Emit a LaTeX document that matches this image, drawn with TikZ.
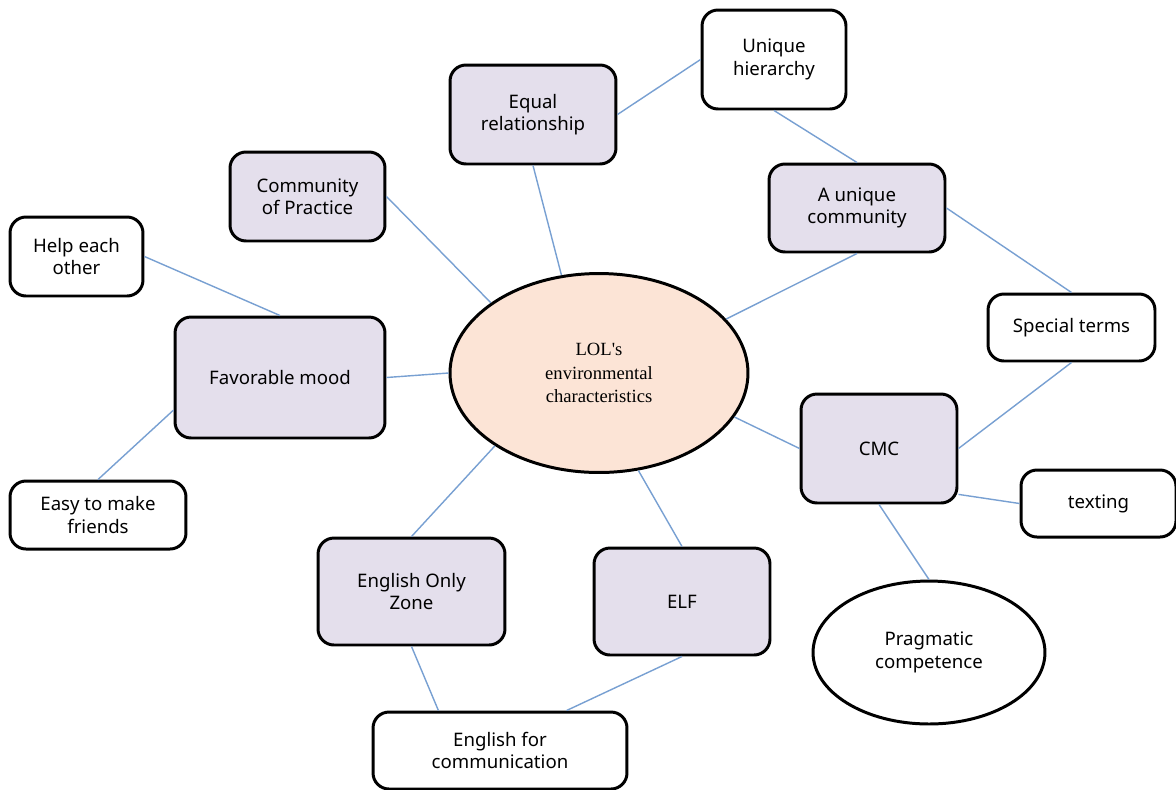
\documentclass[tikz,border=0pt]{standalone}
\usepackage{fontspec}
\setmainfont{Noto Sans}
\newfontfamily\serifcenter{Liberation Serif}
\usetikzlibrary{shapes.geometric}
\definecolor{lavfill}{HTML}{E4DFEC}
\definecolor{peachfill}{HTML}{FCE4D6}
\definecolor{linkblue}{RGB}{120,160,210}
\tikzset{
  basebox/.style={draw=black, line width=1.7pt, rounded corners=0.32cm, inner sep=0pt, align=center,
    font=\fontsize{10.6}{12.8}\selectfont},
  lavbox/.style={basebox, fill=lavfill},
  whitebox/.style={basebox, fill=white},
  ovalnode/.style={ellipse, draw=black, line width=1.7pt, inner sep=0pt, align=center},
  link/.style={draw=linkblue, line width=0.8pt}
}
\begin{document}
\begin{tikzpicture}[x=0.02cm,y=-0.02cm]
\useasboundingbox[fill=white] (0,0) rectangle (1176,789);
% nodes
\node[ovalnode, fill=peachfill, minimum width=5.96cm, minimum height=3.98cm,
  font=\serifcenter\fontsize{10.6}{13.2}\selectfont] (lol) at (599,373) {LOL's\\environmental\\characteristics};
\node[lavbox, minimum width=3.32cm, minimum height=1.98cm] (eq) at (533,114.5) {Equal\\relationship};
\node[whitebox, minimum width=2.88cm, minimum height=1.98cm] (uh) at (774,59.5) {Unique\\hierarchy};
\node[lavbox, minimum width=3.10cm, minimum height=1.78cm] (cop) at (307.5,196.5) {Community\\of Practice};
\node[lavbox, minimum width=3.52cm, minimum height=1.76cm] (auc) at (857,208) {A unique\\community};
\node[whitebox, minimum width=2.66cm, minimum height=1.58cm] (help) at (76.5,256.5) {Help each\\other};
\node[whitebox, minimum width=3.34cm, minimum height=1.34cm] (st) at (1071.5,327.5) {Special terms};
\node[lavbox, minimum width=4.20cm, minimum height=2.42cm] (fav) at (280,377.5) {Favorable mood};
\node[lavbox, minimum width=3.12cm, minimum height=2.18cm] (cmc) at (879,448.5) {CMC};
\node[whitebox, minimum width=3.10cm, minimum height=1.34cm] (tx) at (1098.5,503.5) {texting};
\node[whitebox, minimum width=3.52cm, minimum height=1.36cm] (easy) at (98,515) {Easy to make\\friends};
\node[lavbox, minimum width=3.74cm, minimum height=2.14cm] (eoz) at (411.5,591.5) {English Only\\Zone};
\node[lavbox, minimum width=3.52cm, minimum height=2.14cm] (elf) at (682,601.5) {ELF};
\node[ovalnode, fill=white, minimum width=4.64cm, minimum height=2.86cm,
  font=\fontsize{10.6}{12.8}\selectfont] (prag) at (929,652.5) {Pragmatic\\competence};
\node[whitebox, minimum width=5.08cm, minimum height=1.54cm] (efc) at (500,750.5) {English for\\communication};
% connectors
\path[link] (eq.south) -- (lol.111);
\path[link] (eq.east) -- (uh.west);
\path[link] (uh.south) -- (auc.north);
\path[link] (auc.south) -- (lol.23);
\path[link] (auc.east) -- (st.north);
\path[link] (st.south) -- (cmc.east);
\path[link] (cmc.330) -- (tx.west);
\path[link] (cmc.south) -- (prag.north);
\path[link] (cmc.west) -- (lol.342);
\path[link] (cop.east) -- (lol.147);
\path[link] (help.east) -- (fav.north);
\path[link] (fav.east) -- (lol.180);
\path[link] (fav.197) -- (easy.north);
\path[link] (lol.215) -- (eoz.north);
\path[link] (lol.292) -- (elf.north);
\path[link] (eoz.south) -- (efc.147);
\path[link] (elf.south) -- (efc.31);
\end{tikzpicture}
\end{document}
